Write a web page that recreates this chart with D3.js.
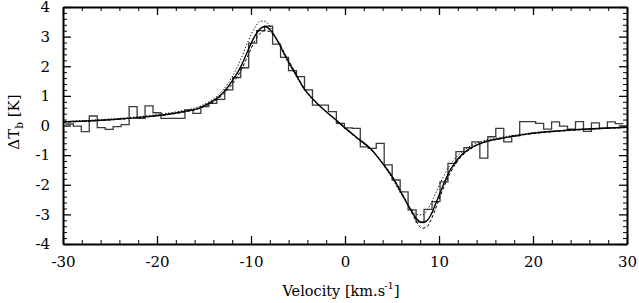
<!DOCTYPE html>
<html>
<head>
<meta charset="utf-8">
<script src="https://cdn.jsdelivr.net/npm/d3@7"></script>
<style>
  body { margin: 0; background: #fff; }
</style>
</head>
<body>
<div id="chart"></div>
<script>
// Observed spectrum difference (histogram) and three model fits

const serif = "DejaVu Serif";

// histogram channels: first edge + channel width (km/s)
const firstEdge = -29.75;
const channelWidth = 0.848;
const observedTb = [
  0.05, -0.02, -0.21, 0.32, -0.07, -0.13, -0.04, 0.03, 0.64, 0.24,
  0.66, 0.43, 0.24, 0.24, 0.24, 0.53, 0.41, 0.64, 0.75, 0.88,
  1.2, 1.62, 1.95, 2.78, 3.2, 3.35, 2.75, 2.3, 1.85, 1.65,
  1.2, 0.69, 0.69, 0.47, 0.07, -0.08, -0.1, -0.72, -0.77, -0.6,
  -1.33, -1.84, -2.24, -2.85, -3.25, -2.83, -2.57, -1.9, -1.28, -0.88,
  -0.75, -0.55, -1.1, -0.38, -0.1, -0.55, -0.35, 0.13, 0.13, 0.07,
  -0.12, 0.12, -0.02, -0.12, 0.13, -0.2, 0.09, -0.1, 0.12, 0.06
];

// model curves, sampled on a common velocity grid
const modelVel = [-30, -27, -24, -21, -19, -17, -15.6, -14.5, -13.5, -12.8, -12.05, -11.5, -11.0, -10.3, -9.6, -9.0, -8.5, -8.0, -7.45, -6.9, -6.4, -5.3, -4.26, -3.3, -2.3, -1.2, 0, 1.3, 2.7, 4.0, 5.0, 6.0, 7.0, 7.6, 8.2, 8.7, 9.2, 9.7, 10.2, 11.2, 12.3, 13.3, 14.4, 16.8, 19.3, 22.9, 26.4, 30];
const solidFit = [0.12, 0.16, 0.22, 0.3, 0.37, 0.48, 0.58, 0.75, 0.95, 1.17, 1.48, 1.75, 2.04, 2.55, 3.02, 3.27, 3.34, 3.24, 3.0, 2.7, 2.38, 1.76, 1.2, 0.85, 0.55, 0.25, -0.08, -0.42, -0.78, -1.28, -1.72, -2.28, -2.85, -3.15, -3.28, -3.22, -2.98, -2.6, -2.2, -1.5, -1.02, -0.77, -0.6, -0.42, -0.29, -0.18, -0.11, -0.06];
const dashedFit = [0.11, 0.15, 0.21, 0.29, 0.36, 0.46, 0.56, 0.71, 0.9, 1.1, 1.38, 1.62, 1.9, 2.38, 2.85, 3.12, 3.2, 3.17, 3.0, 2.72, 2.42, 1.8, 1.22, 0.86, 0.55, 0.24, -0.1, -0.44, -0.8, -1.26, -1.7, -2.25, -2.88, -3.25, -3.47, -3.42, -3.15, -2.75, -2.33, -1.6, -1.08, -0.8, -0.62, -0.43, -0.3, -0.19, -0.12, -0.07];
const dottedFit = [0.13, 0.18, 0.24, 0.33, 0.41, 0.52, 0.63, 0.8, 1.02, 1.27, 1.62, 1.95, 2.3, 2.85, 3.3, 3.52, 3.52, 3.34, 3.02, 2.68, 2.33, 1.72, 1.18, 0.84, 0.55, 0.26, -0.06, -0.4, -0.76, -1.3, -1.78, -2.33, -2.8, -3.0, -3.02, -2.88, -2.6, -2.25, -1.9, -1.32, -0.92, -0.7, -0.55, -0.39, -0.27, -0.17, -0.1, -0.05];

const xTicks = [-30, -20, -10, 0, 10, 20, 30];
const yTicks = [-4, -3, -2, -1, 0, 1, 2, 3, 4];

const W = 639, H = 303;
const x = d3.scaleLinear([-30, 30], [63, 627]);
const y = d3.scaleLinear([-4, 4], [244, 7]);

const svg = d3.select("#chart")
  .append("svg")
  .attr("width", W)
  .attr("height", H);

// minor ticks
const xMinor = d3.range(-30, 30.1, 2).filter(d => d % 10 !== 0);
const yMinor = d3.range(-4, 4.01, 0.2).map(d => +d.toFixed(1)).filter(d => !Number.isInteger(d));

function styleAxis(g, width) {
  g.select(".domain").attr("stroke-width", width);
  g.selectAll(".tick line").attr("stroke-width", 1.3);
  g.attr("font-family", serif).attr("font-size", 15);
  g.selectAll(".tick text").attr("fill", "#000");
}

// bottom
svg.append("g").attr("transform", "translate(0,244)")
  .call(d3.axisBottom(x).tickValues(xMinor).tickSize(-4).tickSizeOuter(0).tickFormat(""))
  .call(g => g.select(".domain").remove());
svg.append("g").attr("transform", "translate(0,244)")
  .call(d3.axisBottom(x).tickValues(xTicks).tickSize(-8).tickSizeOuter(0).tickPadding(12).tickFormat(d => String(d)))
  .call(g => styleAxis(g, 2));
// top
svg.append("g").attr("transform", "translate(0,7)")
  .call(d3.axisTop(x).tickValues(xMinor).tickSize(-4).tickSizeOuter(0).tickFormat(""))
  .call(g => g.select(".domain").remove());
svg.append("g").attr("transform", "translate(0,7)")
  .call(d3.axisTop(x).tickValues(xTicks).tickSize(-8).tickSizeOuter(0).tickFormat(""))
  .call(g => styleAxis(g, 2));
// left
svg.append("g").attr("transform", "translate(63,0)")
  .call(d3.axisLeft(y).tickValues(yMinor).tickSize(-4).tickSizeOuter(0).tickFormat(""))
  .call(g => g.select(".domain").remove());
svg.append("g").attr("transform", "translate(63,0)")
  .call(d3.axisLeft(y).tickValues(yTicks).tickSize(-8).tickSizeOuter(0).tickPadding(13).tickFormat(d => String(d)))
  .call(g => styleAxis(g, 2));
// right
svg.append("g").attr("transform", "translate(627,0)")
  .call(d3.axisRight(y).tickValues(yMinor).tickSize(-4).tickSizeOuter(0).tickFormat(""))
  .call(g => g.select(".domain").remove());
svg.append("g").attr("transform", "translate(627,0)")
  .call(d3.axisRight(y).tickValues(yTicks).tickSize(-8).tickSizeOuter(0).tickFormat(""))
  .call(g => styleAxis(g, 2));

// histogram as a step line
const histPts = observedTb.map((v, i) => [firstEdge + i * channelWidth, v]);
histPts.push([firstEdge + observedTb.length * channelWidth, observedTb[observedTb.length - 1]]);

svg.append("path")
  .datum(histPts)
  .attr("fill", "none")
  .attr("stroke", "#3a3a3a")
  .attr("stroke-width", 1.3)
  .attr("d", d3.line().x(d => x(d[0])).y(d => y(d[1])).curve(d3.curveStepAfter));

// model fits
const fitLine = d3.line().x(d => x(d[0])).y(d => y(d[1])).curve(d3.curveMonotoneX);
const fits = [
  { vals: dottedFit, dash: "1.2,2", w: 1 },
  { vals: dashedFit, dash: "3,2", w: 1 },
  { vals: solidFit, dash: null, w: 1.4 }
];
fits.forEach(f => {
  svg.append("path")
    .datum(modelVel.map((v, i) => [v, f.vals[i]]))
    .attr("fill", "none")
    .attr("stroke", "#000")
    .attr("stroke-width", f.w)
    .attr("stroke-dasharray", f.dash)
    .attr("d", fitLine);
});

// axis titles
const xt = svg.append("text")
  .attr("x", 341)
  .attr("y", 296)
  .attr("text-anchor", "middle")
  .attr("font-size", 14.5)
  .attr("font-family", serif)
  .attr("fill", "#000");
xt.append("tspan").text("Velocity [km.s");
xt.append("tspan").attr("font-size", 10).attr("dx", -1).attr("dy", -7).text("-1");
xt.append("tspan").attr("dy", 7).text("]");

const yt = svg.append("text")
  .attr("transform", "translate(19,122) rotate(-90)")
  .attr("text-anchor", "middle")
  .attr("font-size", 15)
  .attr("font-family", serif)
  .attr("fill", "#000");
yt.append("tspan").text("\u0394T");
yt.append("tspan").attr("font-size", 10.5).attr("dy", 4).text("b");
yt.append("tspan").attr("dy", -4).text(" [K]");
</script>
</body>
</html>
